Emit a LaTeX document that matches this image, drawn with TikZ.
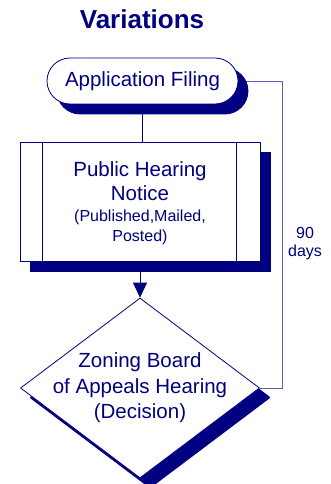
\documentclass[tikz,border=0pt]{standalone}
\usepackage{fontspec}
\setmainfont{Liberation Sans}
\usetikzlibrary{shapes.geometric,shadows,arrows.meta,backgrounds}
\definecolor{navy}{RGB}{0,0,128}
\definecolor{fbline}{RGB}{96,96,176}
\tikzset{
  box/.style={draw=navy, fill=white, line width=0.8pt, inner sep=0pt, text=navy,
    copy shadow={shadow xshift=10pt, shadow yshift=-10pt, fill=navy, draw=navy}},
  conn/.style={draw=navy, line width=0.8pt},
  txt/.style={text=navy, align=center, inner sep=0pt}
}
\begin{document}
\begin{tikzpicture}[x=1pt,y=-1pt]
\useasboundingbox (0,0) rectangle (330,484);
\node[txt, font=\bfseries\fontsize{26}{30}\selectfont] (title) at (142,19) {Variations};
\node[box, rectangle, rounded corners=23pt, minimum width=191pt, minimum height=46pt,
  font=\fontsize{20.5}{24}\selectfont] (filing) at (142.5,81) {Application Filing};
\node[box, rectangle, minimum width=240pt, minimum height=119pt] (notice) at (140,201.5) {};
\draw[conn] ([xshift=23pt]notice.north west) -- ([xshift=23pt]notice.south west);
\draw[conn] ([xshift=-24pt]notice.north east) -- ([xshift=-24pt]notice.south east);
\node[txt, font=\fontsize{20.5}{24}\selectfont] (ntext1) at (140,181) {Public Hearing\\Notice};
\node[txt, font=\fontsize{16}{20}\selectfont] (ntext2) at (140,227) {(Published,Mailed,\\Posted)};
\node[box, diamond, minimum width=239pt, minimum height=180pt,
  copy shadow={shadow xshift=10pt, shadow yshift=-9pt, fill=navy, draw=navy}] (dia) at (140,388) {};
\node[txt, font=\fontsize{20.5}{25.5}\selectfont] (dtext) at (140,388) {Zoning Board\\of Appeals Hearing\\(Decision)};
\draw[conn] (filing.south) -- (filing.south |- notice.north);
\draw[conn, -{Triangle[length=15pt,width=14pt]}] (notice.south) -- (dia.north);
\coordinate (fb) at (282,81);
\begin{scope}[on background layer]
\draw[draw=fbline, line width=0.8pt] (dia.east) -| (fb) -- (filing.east);
\end{scope}
\node[txt, font=\fontsize{16}{18}\selectfont] (days) at (305,244) {90\\days};
\end{tikzpicture}
\end{document}
